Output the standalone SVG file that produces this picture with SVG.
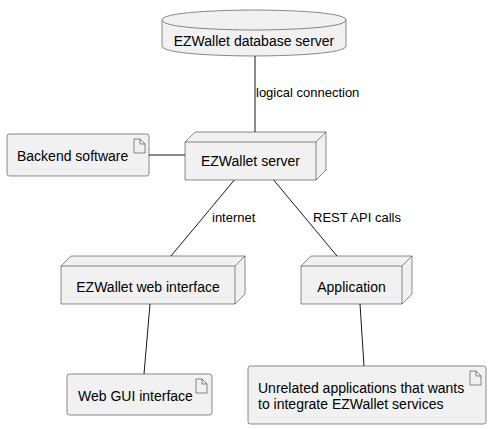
<svg xmlns="http://www.w3.org/2000/svg" width="497" height="429" viewBox="0 0 497 429">
<style>
.s{fill:#F1F1F1;stroke:#181818;stroke-width:0.5}
.l{fill:none;stroke:#181818;stroke-width:1}
.t{font-family:"Liberation Sans",Arial,sans-serif;font-size:14px;fill:#000}
.lb{font-family:"Liberation Sans",Arial,sans-serif;font-size:13px;fill:#000}
.ic{fill:none;stroke:#181818;stroke-width:0.5}
</style>
<rect width="497" height="429" fill="#FFFFFF"/>
<g id="connectors">
<line class="l" x1="255" y1="56" x2="255" y2="132"/>
<text class="lb" x="256" y="97">logical connection</text>
<line class="l" x1="149" y1="155" x2="185" y2="155"/>
<line class="l" x1="236" y1="178" x2="171" y2="256"/>
<text class="lb" x="212" y="222">internet</text>
<line class="l" x1="272" y1="178" x2="337" y2="256"/>
<text class="lb" x="313" y="222">REST API calls</text>
<line class="l" x1="150" y1="304" x2="144" y2="374"/>
<line class="l" x1="360" y1="304" x2="364" y2="366"/>
</g>
<g id="db">
<path class="s" d="M162,20 C162,10 254,10 254,10 C254,10 346,10 346,20 L346,46 C346,56 254,56 254,56 C254,56 162,56 162,46 Z"/>
<path class="s" d="M162,20 C162,30 254,30 254,30 C254,30 346,30 346,20" fill="none"/>
<text class="t" x="254" y="46" text-anchor="middle">EZWallet database server</text>
</g>
<g id="server">
<path class="s" d="M185,142 L195,132 L326,132 L326,170 L316,180 L185,180 Z"/>
<path class="ic" d="M185,142 L316,142 L326,132 M316,142 L316,180"/>
<text class="t" x="250.5" y="166" text-anchor="middle">EZWallet server</text>
</g>
<g id="backend">
<rect class="s" x="7" y="134" width="142" height="42" rx="2.5"/>
<path class="ic" d="M134,139 L140,139 L145,144 L145,153 L134,153 Z M140,139 L140,144 L145,144"/>
<text class="t" x="17" y="161">Backend software</text>
</g>
<g id="web">
<path class="s" d="M61,266 L71,256 L245,256 L245,294 L235,304 L61,304 Z"/>
<path class="ic" d="M61,266 L235,266 L245,256 M235,266 L235,304"/>
<text class="t" x="148" y="292" text-anchor="middle">EZWallet web interface</text>
</g>
<g id="app">
<path class="s" d="M301,266 L311,256 L412,256 L412,294 L402,304 L301,304 Z"/>
<path class="ic" d="M301,266 L402,266 L412,256 M402,266 L402,304"/>
<text class="t" x="351.5" y="292" text-anchor="middle">Application</text>
</g>
<g id="webgui">
<rect class="s" x="67" y="374" width="145" height="41" rx="2.5"/>
<path class="ic" d="M196,379 L202,379 L207,384 L207,393 L196,393 Z M202,379 L202,384 L207,384"/>
<text class="t" x="78" y="401">Web GUI interface</text>
</g>
<g id="unrelated">
<rect class="s" x="248" y="366" width="238" height="58" rx="2.5"/>
<path class="ic" d="M470,371 L476,371 L481,376 L481,385 L470,385 Z M476,371 L476,376 L481,376"/>
<text class="t" x="258" y="393">Unrelated applications that wants</text>
<text class="t" x="258" y="409">to integrate EZWallet services</text>
</g>
</svg>
